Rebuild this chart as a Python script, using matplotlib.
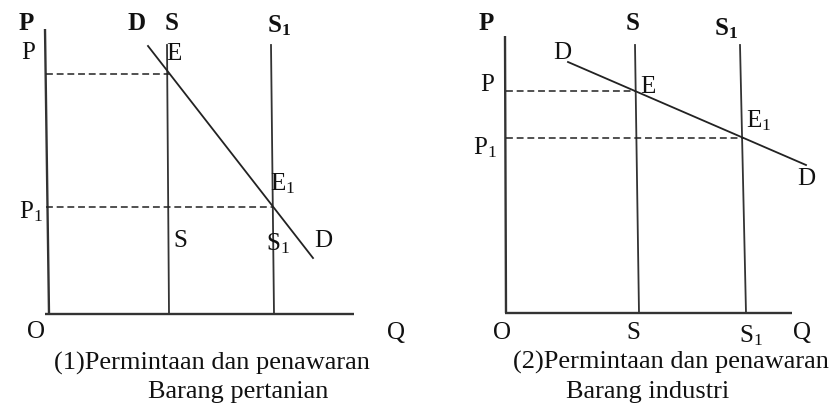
import matplotlib
matplotlib.use("Agg")
import matplotlib.pyplot as plt

plt.rcParams['font.family'] = ['Liberation Serif', 'DejaVu Serif']
plt.rcParams['mathtext.fontset'] = 'custom'
plt.rcParams['mathtext.rm'] = 'Liberation Serif'
plt.rcParams['mathtext.it'] = 'Liberation Serif:italic'
plt.rcParams['mathtext.bf'] = 'Liberation Serif:bold'

# panel 1: barang pertanian (satuan: Q dan P dari titik O)
q_axis_1 = [-4, 305]
p_axis_1 = [0, 285]
q_s_1 = [118, 120]      # garis S (atas, bawah)
q_s1_1 = [222, 225]     # garis S1 (atas, bawah)
p_top_1 = 269
q_d_1 = [99, 264]       # garis D
p_d_1 = [268, 56]
p_e_1 = 240
p_e1_1 = 107

# panel 2: barang industri
q_axis_2 = [-1, 286]
p_axis_2 = [0, 277]
q_s_2 = [129, 133]
q_s1_2 = [234, 240]
p_top_2 = 268
q_d_2 = [62, 300]
p_d_2 = [251, 148]
p_e_2 = 222
p_e1_2 = 175

caption_1 = ["(1)Permintaan dan penawaran", "Barang pertanian"]
caption_2 = ["(2)Permintaan dan penawaran", "Barang industri"]

axis_col = "#333333"
line_col = "#222222"
fs = 18
fs_cap = 19

fig = plt.figure(figsize=(8.35, 4.08), dpi=100)
ax1 = fig.add_axes([0, 0, 420/835, 1])
ax1.set_xlim(-49, 371)
ax1.set_ylim(-94, 314)
ax2 = fig.add_axes([420/835, 0, 415/835, 1])
ax2.set_xlim(-86, 329)
ax2.set_ylim(-95, 313)


def draw_panel(ax, q_axis, p_axis, q_s, q_s1, p_top, q_d, p_d, p_e, p_e1):
    ax.axis("off")
    # sumbu
    ax.plot([q_axis[0], 0], [p_axis[1], 0], color=axis_col, lw=1.7, solid_capstyle="butt")
    ax.plot(q_axis, [0, 0], color=axis_col, lw=1.7, solid_capstyle="butt")
    # garis penawaran
    ax.plot(q_s, [p_top, 0], color=axis_col, lw=1.3)
    ax.plot(q_s1, [p_top, 0], color=axis_col, lw=1.3)
    # garis permintaan
    ax.plot(q_d, p_d, color=line_col, lw=1.3)
    # harga keseimbangan
    slope = (p_d[1] - p_d[0]) / (q_d[1] - q_d[0])
    qe = q_d[0] + (p_e - p_d[0]) / slope
    qe1 = q_d[0] + (p_e1 - p_d[0]) / slope
    ax.plot([q_axis[0] + 1, qe], [p_e, p_e], color=line_col, lw=1.1, dashes=(4.5, 2.5))
    ax.plot([q_axis[0] + 1, qe1], [p_e1, p_e1], color=line_col, lw=1.1, dashes=(4.5, 2.5))


draw_panel(ax1, q_axis_1, p_axis_1, q_s_1, q_s1_1, p_top_1, q_d_1, p_d_1, p_e_1, p_e1_1)
draw_panel(ax2, q_axis_2, p_axis_2, q_s_2, q_s1_2, p_top_2, q_d_2, p_d_2, p_e_2, p_e1_2)

kw = dict(ha="center", va="center", fontsize=fs, color="#111111")
bkw = dict(kw, fontweight="bold")
ckw = dict(kw, fontsize=fs_cap)

# label panel 1
ax1.text(-23, 291, "P", **bkw)
ax1.text(88, 291, "D", **bkw)
ax1.text(123, 291, "S", **bkw)
ax1.text(230, 288, r"S$_\mathbf{1}$", **bkw)
ax1.text(-21, 261, "P", **kw)
ax1.text(125, 260, "E", **kw)
ax1.text(234, 130, r"E$_1$", **kw)
ax1.text(-18, 102, r"P$_1$", **kw)
ax1.text(131, 73, "S", **kw)
ax1.text(229, 70, r"S$_1$", **kw)
ax1.text(274, 73, "D", **kw)
ax1.text(-13, -18, "O", **kw)
ax1.text(347, -19, "Q", **kw)
ax1.text(163, -49, caption_1[0], **ckw)
ax1.text(189, -78, caption_1[1], **ckw)

# label panel 2
ax2.text(-20, 289, "P", **bkw)
ax2.text(127, 289, "S", **bkw)
ax2.text(220, 284, r"S$_\mathbf{1}$", **bkw)
ax2.text(56, 260, "D", **kw)
ax2.text(-19, 228, "P", **kw)
ax2.text(142, 226, "E", **kw)
ax2.text(253, 192, r"E$_1$", **kw)
ax2.text(-21, 165, r"P$_1$", **kw)
ax2.text(300, 134, "D", **kw)
ax2.text(-4, -20, "O", **kw)
ax2.text(127, -20, "S", **kw)
ax2.text(245, -23, r"S$_1$", **kw)
ax2.text(296, -20, "Q", **kw)
ax2.text(165, -49, caption_2[0], **ckw)
ax2.text(142, -79, caption_2[1], **ckw)

fig.savefig("out.png", dpi=100, facecolor="white")
